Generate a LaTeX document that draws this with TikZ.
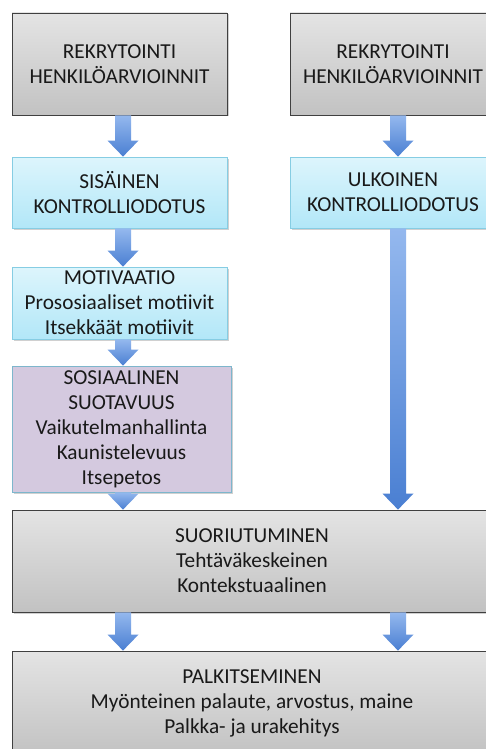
\documentclass[tikz,border=0pt]{standalone}
\usepackage{fontspec}
\setmainfont{Carlito}
\usetikzlibrary{calc,shadows}
\definecolor{grayTop}{HTML}{E4E4E4}
\definecolor{grayBot}{HTML}{C2C2C2}
\definecolor{cyanTop}{HTML}{DDF5FC}
\definecolor{cyanBot}{HTML}{B2E7F8}
\definecolor{cyanLine}{HTML}{86CDE3}
\definecolor{lilac}{HTML}{D4C9DF}
\definecolor{lilacLine}{HTML}{7DB6CC}
\definecolor{arrTop}{HTML}{94B8EE}
\definecolor{arrBot}{HTML}{4A7FD2}
\newcommand{\blockarr}[3]{%
  \path[blockarrow] let \p1=(#2.south), \p2=(#3.north) in
    (#1pt-8pt,\y1) -- (#1pt+8pt,\y1) -- (#1pt+8pt,\y2+16pt) -- (#1pt+15.5pt,\y2+16pt)
    -- (#1pt,\y2) -- (#1pt-15.5pt,\y2+16pt) -- (#1pt-8pt,\y2+16pt) -- cycle;}
\begin{document}
\begin{tikzpicture}[x=1pt,y=-1pt,
  box/.style={rectangle, inner sep=0pt, align=center,
    font=\fontsize{21.3}{25}\selectfont, text=black!90, line width=0.8pt,
    drop shadow={shadow xshift=1.5pt, shadow yshift=-1.5pt, opacity=0.3, fill=black!60}},
  graybox/.style={box, draw=black!75, top color=grayTop, bottom color=grayBot},
  cyanbox/.style={box, draw=cyanLine, top color=cyanTop, bottom color=cyanBot},
  lilacbox/.style={box, draw=lilacLine, fill=lilac},
  blockarrow/.style={top color=arrTop, bottom color=arrBot, draw=none}]
\useasboundingbox (0,0) rectangle (486,749);
\clip (0,0) rectangle (486,749);
\fill[white] (0,0) rectangle (486,749);

\node[graybox, minimum width=215pt, minimum height=102pt] (rek1) at (119.5,64)
  {REKRYTOINTI\\HENKILÖARVIOINNIT};
\node[graybox, minimum width=206pt, minimum height=102pt] (rek2) at (393,64)
  {REKRYTOINTI\\HENKILÖARVIOINNIT};
\node[cyanbox, minimum width=215pt, minimum height=71pt] (sis) at (119.5,192.5)
  {SISÄINEN\\KONTROLLIODOTUS};
\node[cyanbox, minimum width=206pt, minimum height=71pt] (ulk) at (393,192.5)
  {ULKOINEN\\KONTROLLIODOTUS};
\node[cyanbox, minimum width=215pt, minimum height=72pt] (mot) at (119.5,303)
  {MOTIVAATIO\\Prososiaaliset motiivit\\Itsekkäät motiivit};
\node[lilacbox, minimum width=219pt, minimum height=126pt] (sos) at (121.5,429)
  {SOSIAALINEN\\SUOTAVUUS\\Vaikutelmanhallinta\\Kaunistelevuus\\Itsepetos};
\node[graybox, minimum width=480pt, minimum height=102pt] (suo) at (252,561)
  {SUORIUTUMINEN\\Tehtäväkeskeinen\\Kontekstuaalinen};
\node[graybox, minimum width=480pt, minimum height=104pt] (pal) at (252,703)
  {PALKITSEMINEN\\Myönteinen palaute, arvostus, maine\\Palkka- ja urakehitys};

\blockarr{123}{rek1}{sis}
\blockarr{398}{rek2}{ulk}
\blockarr{123}{sis}{mot}
\blockarr{123}{mot}{sos}
\blockarr{123}{sos}{suo}
\blockarr{398}{ulk}{suo}
\blockarr{123}{suo}{pal}
\blockarr{398}{suo}{pal}
\end{tikzpicture}
\end{document}
